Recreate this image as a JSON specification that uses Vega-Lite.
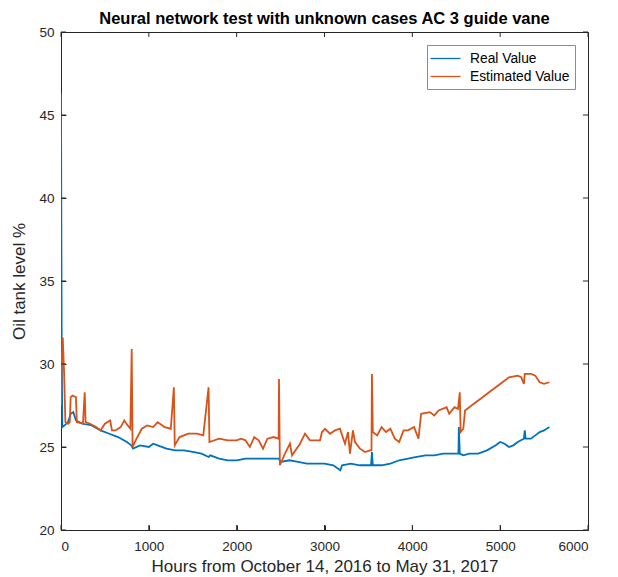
{
  "$schema": "https://vega.github.io/schema/vega-lite/v6.json",
  "width": 527,
  "height": 498,
  "autosize": {"type": "none"},
  "padding": {"left": 61, "top": 32, "right": 30, "bottom": 47},
  "background": "white",
  "title": {"text": "Neural network test with unknown cases AC 3 guide vane", "font": "Liberation Sans", "fontSize": 16.5, "fontWeight": "bold", "color": "#000000", "anchor": "middle", "offset": -2},
  "config": {
    "view": {"stroke": "#262626", "strokeWidth": 1},
    "axis": {"grid": false, "domain": false, "tickColor": "#262626", "labelColor": "#262626", "titleColor": "#262626", "labelFont": "Liberation Sans", "titleFont": "Liberation Sans", "labelFontSize": 13.5, "titleFontSize": 17, "titleFontWeight": "normal", "tickWidth": 1, "tickSize": 5, "offset": -5, "format": "d", "zindex": 1}
  },
  "datasets": {
    "xticks": [{"t": 0}, {"t": 1000}, {"t": 2000}, {"t": 3000}, {"t": 4000}, {"t": 5000}, {"t": 6000}],
    "yticks": [{"t": 20}, {"t": 25}, {"t": 30}, {"t": 35}, {"t": 40}, {"t": 45}, {"t": 50}],
    "real": [
      {"x": 0, "y": 46.3}, {"x": 8, "y": 31.0}, {"x": 15, "y": 26.2}, {"x": 40, "y": 26.3}, {"x": 80, "y": 26.5}, {"x": 110, "y": 27.0}, {"x": 140, "y": 27.1}, {"x": 170, "y": 26.6}, {"x": 250, "y": 26.4}, {"x": 350, "y": 26.3}, {"x": 450, "y": 26.0}, {"x": 550, "y": 25.8}, {"x": 650, "y": 25.6}, {"x": 750, "y": 25.3}, {"x": 800, "y": 25.1}, {"x": 820, "y": 24.9}, {"x": 900, "y": 25.1}, {"x": 1000, "y": 25.0}, {"x": 1050, "y": 25.2}, {"x": 1100, "y": 25.1}, {"x": 1200, "y": 24.9}, {"x": 1300, "y": 24.8}, {"x": 1400, "y": 24.8}, {"x": 1500, "y": 24.7}, {"x": 1600, "y": 24.6}, {"x": 1680, "y": 24.4}, {"x": 1700, "y": 24.5}, {"x": 1800, "y": 24.3}, {"x": 1900, "y": 24.2}, {"x": 2000, "y": 24.2}, {"x": 2100, "y": 24.3}, {"x": 2200, "y": 24.3}, {"x": 2300, "y": 24.3}, {"x": 2400, "y": 24.3}, {"x": 2480, "y": 24.3}, {"x": 2500, "y": 24.1}, {"x": 2600, "y": 24.2}, {"x": 2700, "y": 24.1}, {"x": 2800, "y": 24.0}, {"x": 2900, "y": 24.0}, {"x": 3000, "y": 24.0}, {"x": 3100, "y": 23.9}, {"x": 3180, "y": 23.6}, {"x": 3200, "y": 23.9}, {"x": 3300, "y": 24.0}, {"x": 3400, "y": 23.9}, {"x": 3530, "y": 23.9}, {"x": 3540, "y": 24.7}, {"x": 3550, "y": 23.9}, {"x": 3650, "y": 23.9}, {"x": 3750, "y": 24.0}, {"x": 3850, "y": 24.2}, {"x": 3950, "y": 24.3}, {"x": 4050, "y": 24.4}, {"x": 4150, "y": 24.5}, {"x": 4250, "y": 24.5}, {"x": 4350, "y": 24.6}, {"x": 4450, "y": 24.6}, {"x": 4525, "y": 24.6}, {"x": 4530, "y": 26.2}, {"x": 4540, "y": 24.6}, {"x": 4580, "y": 24.5}, {"x": 4650, "y": 24.6}, {"x": 4750, "y": 24.6}, {"x": 4850, "y": 24.8}, {"x": 4950, "y": 25.1}, {"x": 5000, "y": 25.3}, {"x": 5050, "y": 25.2}, {"x": 5100, "y": 25.0}, {"x": 5150, "y": 25.1}, {"x": 5200, "y": 25.3}, {"x": 5270, "y": 25.5}, {"x": 5280, "y": 26.0}, {"x": 5290, "y": 25.5}, {"x": 5350, "y": 25.5}, {"x": 5400, "y": 25.7}, {"x": 5450, "y": 25.9}, {"x": 5500, "y": 26.0}, {"x": 5560, "y": 26.2}
    ],
    "est": [
      {"x": 0, "y": 27.5}, {"x": 10, "y": 30.5}, {"x": 20, "y": 31.6}, {"x": 35, "y": 29.5}, {"x": 50, "y": 26.5}, {"x": 80, "y": 26.4}, {"x": 100, "y": 26.5}, {"x": 110, "y": 28.0}, {"x": 130, "y": 28.1}, {"x": 170, "y": 28.0}, {"x": 180, "y": 26.5}, {"x": 250, "y": 26.4}, {"x": 270, "y": 28.3}, {"x": 280, "y": 26.5}, {"x": 330, "y": 26.4}, {"x": 400, "y": 26.2}, {"x": 450, "y": 26.0}, {"x": 500, "y": 26.4}, {"x": 560, "y": 26.6}, {"x": 580, "y": 26.0}, {"x": 620, "y": 26.0}, {"x": 680, "y": 26.2}, {"x": 720, "y": 26.6}, {"x": 760, "y": 26.3}, {"x": 790, "y": 26.1}, {"x": 805, "y": 30.9}, {"x": 815, "y": 25.0}, {"x": 860, "y": 25.5}, {"x": 920, "y": 26.1}, {"x": 980, "y": 26.3}, {"x": 1050, "y": 26.2}, {"x": 1100, "y": 26.5}, {"x": 1180, "y": 26.2}, {"x": 1250, "y": 26.1}, {"x": 1285, "y": 28.6}, {"x": 1295, "y": 25.1}, {"x": 1350, "y": 25.6}, {"x": 1450, "y": 25.8}, {"x": 1550, "y": 25.8}, {"x": 1620, "y": 25.7}, {"x": 1680, "y": 28.6}, {"x": 1690, "y": 25.3}, {"x": 1800, "y": 25.5}, {"x": 1900, "y": 25.4}, {"x": 2000, "y": 25.4}, {"x": 2050, "y": 25.5}, {"x": 2100, "y": 25.4}, {"x": 2150, "y": 25.0}, {"x": 2200, "y": 25.6}, {"x": 2250, "y": 25.4}, {"x": 2300, "y": 24.9}, {"x": 2350, "y": 25.5}, {"x": 2420, "y": 25.6}, {"x": 2478, "y": 25.5}, {"x": 2482, "y": 29.1}, {"x": 2492, "y": 23.9}, {"x": 2550, "y": 24.6}, {"x": 2607, "y": 25.2}, {"x": 2630, "y": 24.5}, {"x": 2721, "y": 25.2}, {"x": 2778, "y": 25.8}, {"x": 2835, "y": 25.4}, {"x": 2949, "y": 25.4}, {"x": 2971, "y": 25.9}, {"x": 3006, "y": 26.1}, {"x": 3063, "y": 25.8}, {"x": 3119, "y": 26.0}, {"x": 3176, "y": 26.1}, {"x": 3233, "y": 25.2}, {"x": 3268, "y": 25.9}, {"x": 3290, "y": 24.6}, {"x": 3324, "y": 26.0}, {"x": 3347, "y": 25.3}, {"x": 3404, "y": 24.9}, {"x": 3461, "y": 24.7}, {"x": 3518, "y": 24.8}, {"x": 3535, "y": 24.8}, {"x": 3540, "y": 29.4}, {"x": 3550, "y": 25.9}, {"x": 3600, "y": 25.7}, {"x": 3650, "y": 26.2}, {"x": 3700, "y": 25.9}, {"x": 3750, "y": 26.1}, {"x": 3800, "y": 25.5}, {"x": 3850, "y": 25.3}, {"x": 3900, "y": 26.0}, {"x": 3950, "y": 26.0}, {"x": 4020, "y": 26.2}, {"x": 4070, "y": 25.5}, {"x": 4100, "y": 27.0}, {"x": 4200, "y": 27.1}, {"x": 4250, "y": 26.9}, {"x": 4300, "y": 27.2}, {"x": 4390, "y": 27.4}, {"x": 4420, "y": 27.0}, {"x": 4480, "y": 27.4}, {"x": 4520, "y": 27.3}, {"x": 4540, "y": 28.3}, {"x": 4550, "y": 25.9}, {"x": 4580, "y": 26.1}, {"x": 4600, "y": 27.2}, {"x": 4700, "y": 27.6}, {"x": 4800, "y": 28.0}, {"x": 4900, "y": 28.4}, {"x": 5000, "y": 28.8}, {"x": 5100, "y": 29.2}, {"x": 5200, "y": 29.3}, {"x": 5240, "y": 29.2}, {"x": 5270, "y": 28.8}, {"x": 5280, "y": 29.4}, {"x": 5350, "y": 29.4}, {"x": 5400, "y": 29.3}, {"x": 5450, "y": 28.9}, {"x": 5500, "y": 28.8}, {"x": 5560, "y": 28.9}
    ]
  },
  "layer": [
    {
      "data": {"name": "real"},
      "transform": [{"calculate": "'Real Value'", "as": "series"}],
      "mark": {"type": "line", "strokeWidth": 1.8, "clip": true},
      "encoding": {
        "x": {"field": "x", "type": "quantitative", "scale": {"domain": [0, 6000], "nice": false}, "axis": {"title": "Hours from October 14, 2016 to  May 31, 2017", "values": [0, 1000, 2000, 3000, 4000, 5000, 6000], "labelPadding": 9, "titlePadding": 6}},
        "y": {"field": "y", "type": "quantitative", "scale": {"domain": [20, 50], "nice": false, "zero": false}, "axis": {"title": "Oil tank level %", "values": [20, 25, 30, 35, 40, 45, 50], "labelPadding": 7, "titlePadding": 10}},
        "color": {"field": "series", "type": "nominal", "scale": {"domain": ["Real Value", "Estimated Value"], "range": ["#0072BD", "#D95319"]}, "legend": {"title": null, "orient": "none", "legendX": 366, "legendY": 13, "symbolType": "M-2,0H2", "symbolSize": 225, "symbolStrokeWidth": 1.3, "labelFont": "Liberation Sans", "labelFontSize": 13.8, "labelColor": "#000000", "strokeColor": "#8c8c8c", "fillColor": "white", "padding": 5, "rowPadding": 2, "symbolOffset": 5, "labelOffset": 16}}
      }
    },
    {
      "data": {"name": "est"},
      "transform": [{"calculate": "'Estimated Value'", "as": "series"}],
      "mark": {"type": "line", "strokeWidth": 1.8, "clip": true},
      "encoding": {
        "x": {"field": "x", "type": "quantitative", "axis": null},
        "y": {"field": "y", "type": "quantitative", "axis": null},
        "color": {"field": "series", "type": "nominal"}
      }
    },
    {
      "data": {"name": "xticks"},
      "mark": {"type": "rule", "color": "#262626", "strokeWidth": 1},
      "encoding": {
        "x": {"field": "t", "type": "quantitative", "axis": null},
        "y": {"datum": 20, "type": "quantitative", "axis": null},
        "y2": {"datum": 20.3}
      }
    },
    {
      "data": {"name": "xticks"},
      "mark": {"type": "rule", "color": "#262626", "strokeWidth": 1},
      "encoding": {
        "x": {"field": "t", "type": "quantitative", "axis": null},
        "y": {"datum": 49.7, "type": "quantitative", "axis": null},
        "y2": {"datum": 50}
      }
    },
    {
      "data": {"name": "yticks"},
      "mark": {"type": "rule", "color": "#262626", "strokeWidth": 1},
      "encoding": {
        "y": {"field": "t", "type": "quantitative", "axis": null},
        "x": {"datum": 0, "type": "quantitative", "axis": null},
        "x2": {"datum": 57}
      }
    },
    {
      "data": {"name": "yticks"},
      "mark": {"type": "rule", "color": "#262626", "strokeWidth": 1},
      "encoding": {
        "y": {"field": "t", "type": "quantitative", "axis": null},
        "x": {"datum": 5943, "type": "quantitative", "axis": null},
        "x2": {"datum": 6000}
      }
    }
  ],
  "resolve": {"axis": {"x": "independent", "y": "independent"}}
}
